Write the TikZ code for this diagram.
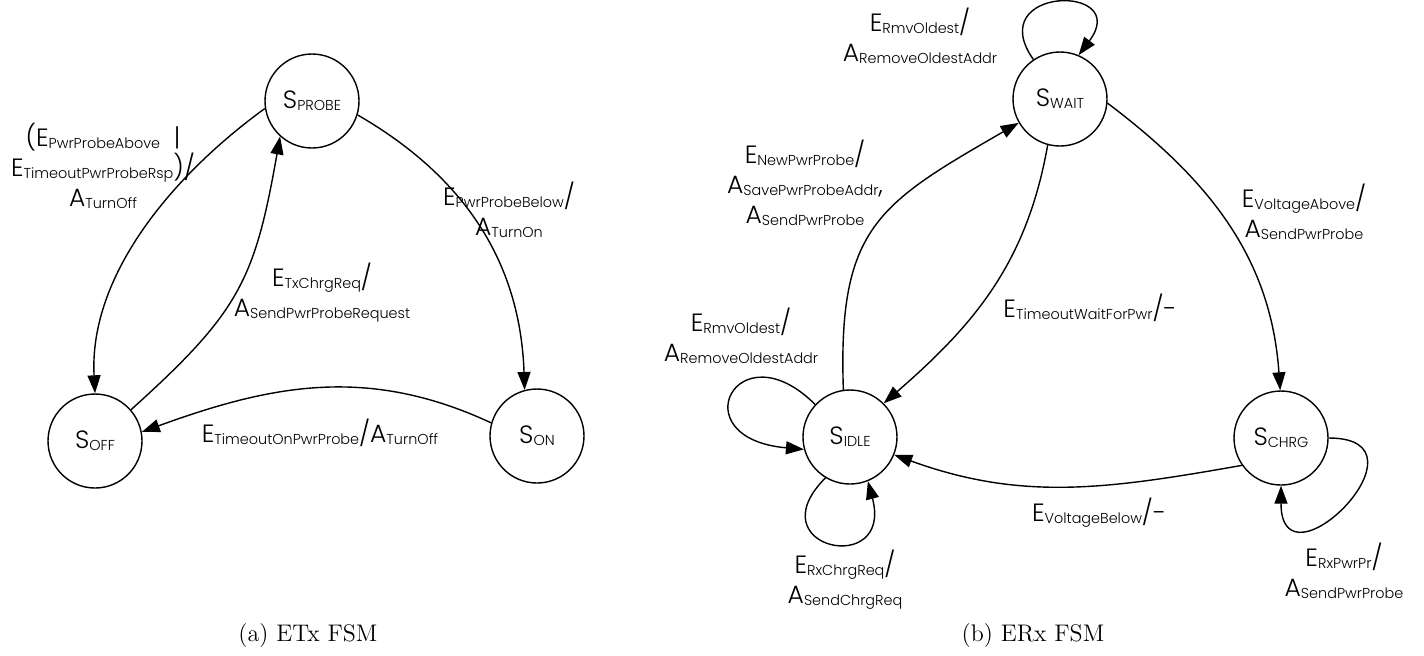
\documentclass[tikz,border=0pt]{standalone}
\usepackage{fontspec}
\newfontfamily\fsmfont{Poppins}[UprightFont=* Light]
\usetikzlibrary{arrows.meta}
% FSM text: a large letter followed by a smaller, slightly lowered name
\newcommand\fsmbig{\fsmfont\fontsize{12.5}{15}\selectfont}
\newcommand\fsmsmall{\fsmfont\fontsize{7.2}{8}\selectfont}
\newcommand\ev[2]{{\fsmbig #1}\raisebox{-1pt}{\fsmsmall #2}}
\newcommand\dv{{\fsmbig /}}
\begin{document}
\begin{tikzpicture}[x=0.5pt,y=0.5pt,
  state/.style={circle,draw,line width=0.7pt,minimum size=47pt,inner sep=0pt},
  tr/.style={line width=0.7pt,-{Triangle[length=9pt,width=6.5pt]}},
  lbl/.style={align=center,inner sep=0pt,font=\fsmbig},
  captxt/.style={font=\fontsize{12}{14}\selectfont}]
\useasboundingbox (0,0) rectangle (1424,-655);

% ---------- ETx FSM ----------
\node[state] (probe) at (312,-101) {\ev{S}{PROBE}};
\node[state] (off)   at (95,-441)  {\ev{S}{OFF}};
\node[state] (on)    at (537,-436) {\ev{S}{ON}};

\draw[tr] (probe.189) to[out=216,in=93,looseness=0.9] (off.90);
\draw[tr] (off.41) to[out=42,in=260,looseness=1.2] (probe.228);
\draw[tr] (probe.-17) to[out=-30,in=92] (on.105);
\draw[tr] (on.164) to[out=155,in=20] (off.11);

\node[lbl] (l1) at (103,-166) {(\ev{E}{PwrProbeAbove}\ \ |\\\ev{E}{TimeoutPwrProbeRsp})\dv\\\ev{A}{TurnOff}};
\node[lbl] (l2) at (509,-210) {\ev{E}{PwrProbeBelow}\dv\\\ev{A}{TurnOn}};
\node[lbl] (l3) at (322,-293) {\ev{E}{TxChrgReq}\dv\\\ev{A}{SendPwrProbeRequest}};
\node[lbl] (l4) at (320,-433) {\ev{E}{TimeoutOnPwrProbe}\dv\ev{A}{TurnOff}};

% ---------- ERx FSM ----------
\node[state] (wait) at (1060,-99)  {\ev{S}{WAIT}};
\node[state] (idle) at (850,-437)  {\ev{S}{IDLE}};
\node[state] (chrg) at (1281,-438) {\ev{S}{CHRG}};

\draw[tr] (idle.98) to[out=92,in=210,looseness=1.3] (wait.210);
\draw[tr] (wait.255) to[out=-100,in=41] (idle.45);
\draw[tr] (wait.-5) to[out=-37,in=94] (chrg.91);
\draw[tr] (chrg.215) to[out=190,in=-20] (idle.-22);
\draw[tr] (wait.124) .. controls +(125:90) and +(53:90) .. (wait.67);
\draw[tr] (idle.137) .. controls +(135:110) and +(175:125) .. (idle.195);
\draw[tr] (idle.239) .. controls +(225:100) and +(-75:100) .. (idle.292);
\draw[tr] (chrg.0) .. controls +(0:110) and +(-90:110) .. (chrg.270);

\node[lbl] (r1) at (920,-36)  {\ev{E}{RmvOldest}\dv\\\ev{A}{RemoveOldestAddr}};
\node[lbl] (r2) at (805,-183) {\ev{E}{NewPwrProbe}\dv\\\ev{A}{SavePwrProbeAddr}{\fsmbig ,}\\\ev{A}{SendPwrProbe}};
\node[lbl] (r3) at (1304,-212) {\ev{E}{VoltageAbove}\dv\\\ev{A}{SendPwrProbe}};
\node[lbl] (r4) at (1090,-308) {\ev{E}{TimeoutWaitForPwr}\dv-};
\node[lbl] (r5) at (741,-336) {\ev{E}{RmvOldest}\dv\\\ev{A}{RemoveOldestAddr}};
\node[lbl] (r6) at (1099,-513) {\ev{E}{VoltageBelow}\dv-};
\node[lbl] (r7) at (845,-580) {\ev{E}{RxChrgReq}\dv\\\ev{A}{SendChrgReq}};
\node[lbl] (r8) at (1344,-571) {\ev{E}{RxPwrPr}\dv\\\ev{A}{SendPwrProbe}};

% ---------- captions ----------
\node[captxt] (capa) at (308,-635) {(a) ETx FSM};
\node[captxt] (capb) at (1033,-635) {(b) ERx FSM};
\end{tikzpicture}
\end{document}
